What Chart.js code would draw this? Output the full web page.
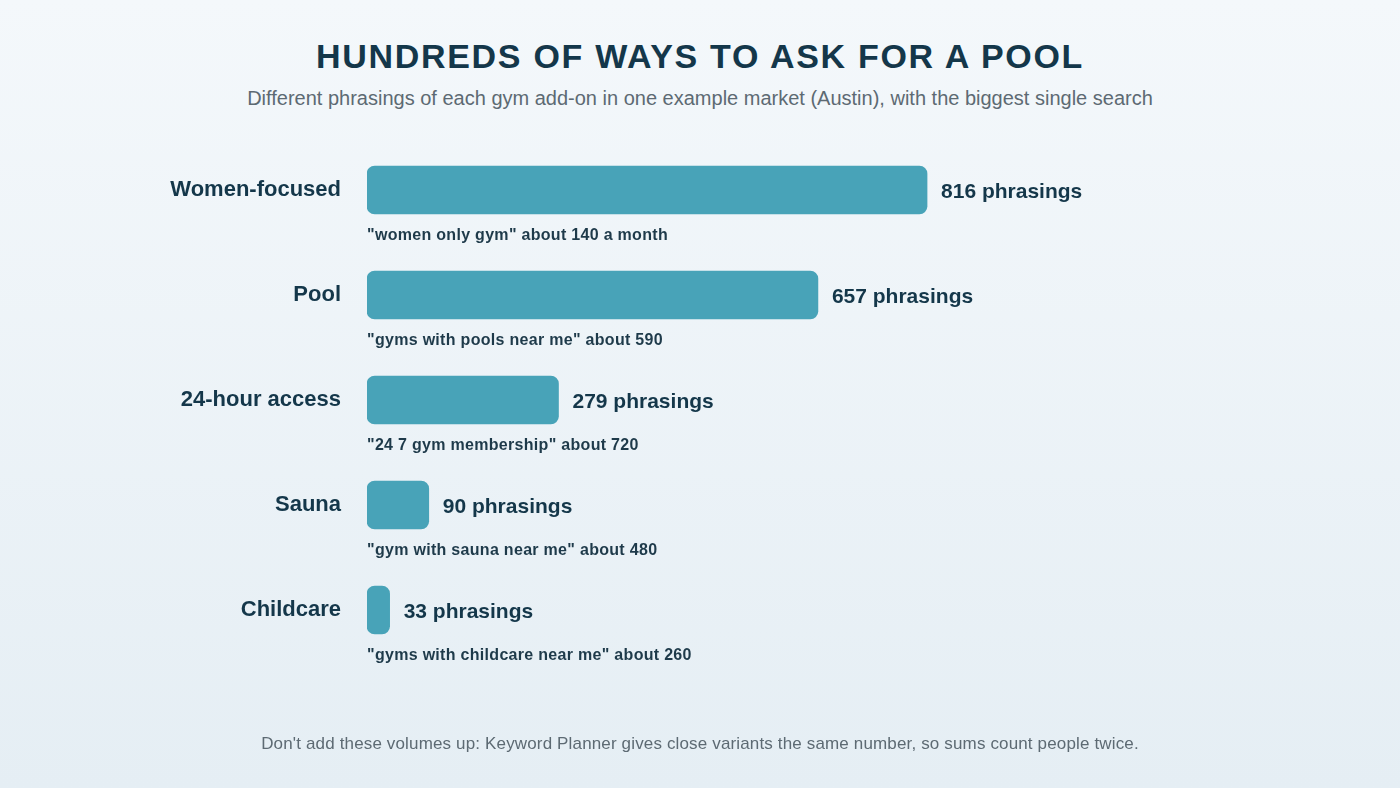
<!DOCTYPE html>
<html>
<head>
<meta charset="utf-8">
<script src="https://cdn.jsdelivr.net/npm/chart.js@4/dist/chart.umd.min.js"></script>
<style>
  html, body { margin: 0; padding: 0; }
  body {
    width: 1400px; height: 788px; position: relative; overflow: hidden;
    background: linear-gradient(180deg, #f4f8fb 0%, #e5eef4 100%);
    font-family: "Liberation Sans", Arial, sans-serif;
  }
  #title {
    position: absolute; left: 0; width: 1400px; top: 37px; text-align: center;
    font-size: 34px; font-weight: bold; color: #14374a; letter-spacing: 1.7px;
  }
  #subtitle {
    position: absolute; left: 0; width: 1400px; top: 87px; text-align: center;
    font-size: 20px; color: #5d6a73;
  }
  #note {
    position: absolute; left: 0; width: 1400px; top: 734px; text-align: center;
    font-size: 17px; color: #5d6a73; letter-spacing: 0.15px;
  }
  #wrap { position: absolute; left: 0; top: 0; width: 1400px; height: 788px; }
</style>
</head>
<body>
<div id="title">HUNDREDS OF WAYS TO ASK FOR A POOL</div>
<div id="subtitle">Different phrasings of each gym add-on in one example market (Austin), with the biggest single search</div>
<div id="wrap"><canvas id="chart"></canvas></div>
<div id="note">Don't add these volumes up: Keyword Planner gives close variants the same number, so sums count people twice.</div>
<script>
// values
const addons = ['Women-focused', 'Pool', '24-hour access', 'Sauna', 'Childcare']
const phrasings = [816, 657, 279, 90, 33]
const topSearch = [
  '"women only gym" about 140 a month',
  '"gyms with pools near me" about 590',
  '"24 7 gym membership" about 720',
  '"gym with sauna near me" about 480',
  '"gyms with childcare near me" about 260'
]

const navy = '#14374a'

// draws the "N phrasings" labels and the top-search line under each bar
const barNotes = {
  id: 'barNotes',
  afterDatasetsDraw(chart) {
    const ctx = chart.ctx
    const meta = chart.getDatasetMeta(0)
    ctx.save()
    ctx.textAlign = 'left'
    ctx.textBaseline = 'middle'
    meta.data.forEach((bar, i) => {
      ctx.fillStyle = navy
      ctx.letterSpacing = '0px'
      ctx.font = 'bold 21px "Liberation Sans", Arial, sans-serif'
      ctx.fillText(phrasings[i] + ' phrasings', bar.x + 14, bar.y + 2)
      ctx.fillStyle = '#1e3a4a'
      ctx.letterSpacing = '0.3px'
      ctx.font = 'bold 16px "Liberation Sans", Arial, sans-serif'
      ctx.fillText(topSearch[i], chart.chartArea.left, bar.y + 46)
    })
    ctx.restore()
  }
}

new Chart(document.getElementById('chart'), {
  type: 'bar',
  data: {
    labels: addons,
    datasets: [{
      data: phrasings,
      backgroundColor: '#48a3b8',
      borderRadius: 8,
      borderSkipped: false,
      barThickness: 48
    }]
  },
  options: {
    indexAxis: 'y',
    responsive: true,
    maintainAspectRatio: false,
    animation: false,
    layout: { padding: { top: 137.5, bottom: 125.5, left: 0, right: 209.4 } },
    plugins: {
      legend: { display: false },
      tooltip: { enabled: false }
    },
    scales: {
      x: {
        min: 0,
        max: 1200,
        display: false
      },
      y: {
        grid: { display: false, drawTicks: false },
        border: { display: false },
        afterFit(scale) { scale.width = 367 },
        ticks: {
          padding: 26,
          color: navy,
          font: { family: '"Liberation Sans", Arial, sans-serif', size: 22, weight: 'bold' }
        }
      }
    }
  },
  plugins: [barNotes]
})
</script>
</body>
</html>
